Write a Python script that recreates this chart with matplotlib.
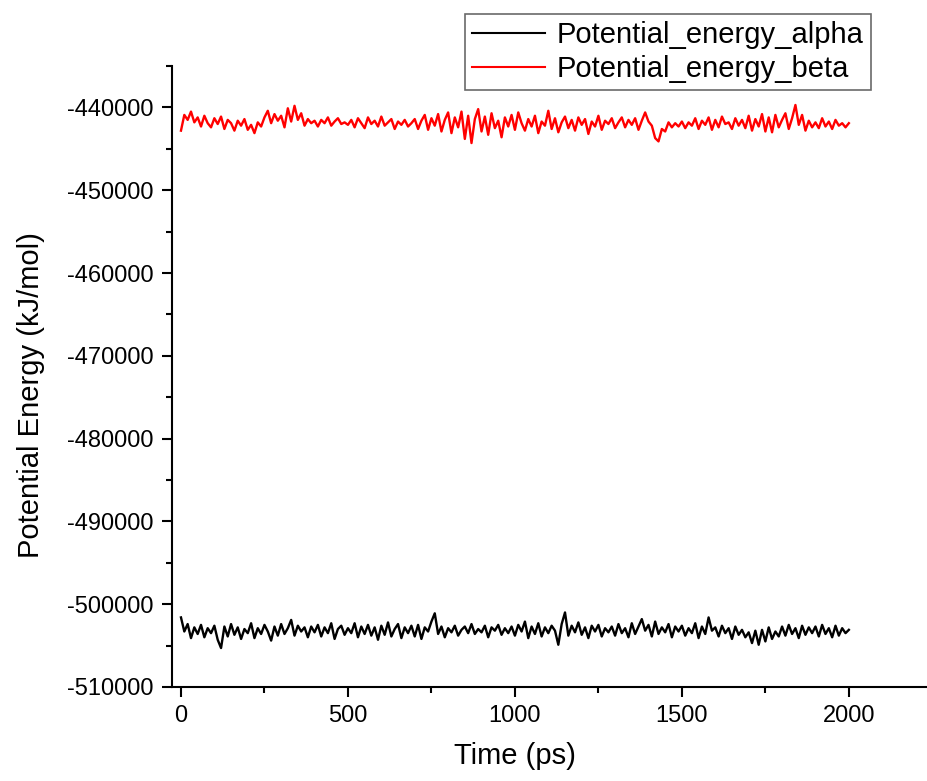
import numpy as np
import matplotlib
matplotlib.use("Agg")
import matplotlib.pyplot as plt
from matplotlib.ticker import MultipleLocator

# time axis, one sample every 10 ps
time_ps = np.arange(0, 2001, 10)

# potential energy (kJ/mol)
energy_beta = [
    -442800, -440900, -441500, -440500, -441800, -441200, -442300, -441000, -441900, -442400,
    -441300, -442000, -441100, -442600, -441500, -441900, -442800, -441600, -442200, -441400,
    -442700, -442100, -443100, -441800, -442300, -441200, -440400, -441900, -440800, -441600,
    -441000, -442400, -440100, -441700, -439800, -441500, -440700, -442200, -441400, -441900,
    -441600, -442300, -441500, -441900, -441200, -442200, -441700, -441300, -442000, -441800,
    -442100, -441500, -442400, -441300, -441900, -442500, -441200, -442000, -441600, -442300,
    -441100, -442200, -441800, -441400, -442600, -441700, -442100, -441500, -442300, -441900,
    -441400, -442600, -441600, -440900, -442700, -441300, -442200, -440800, -442900, -441500,
    -440600, -443100, -441200, -442400, -440500, -443800, -441000, -444300, -441400, -440200,
    -442900, -441100, -443300, -440700, -442500, -441600, -443600, -441200, -442300, -440900,
    -442700, -440600, -441900, -442800, -441400, -442300, -441000, -443100, -441700, -442200,
    -440400, -442600, -441300, -443000, -441800, -441100, -442500, -441500, -442800, -441200,
    -442100, -441400, -443200, -441700, -442300, -441000, -442700, -441600, -442000, -441300,
    -442500, -441800, -441200, -442400, -441500, -442100, -441300, -442700, -441600, -440600,
    -441700, -442200, -443700, -444100, -442600, -442900, -441800, -442400, -441900, -442300,
    -441700, -442500, -441800, -442200, -441300, -442600, -441600, -442100, -441200, -442700,
    -441500, -442400, -441100, -442000, -441800, -442600, -441300, -442200, -441500, -442500,
    -441000, -442800, -441400, -442300, -440800, -442900, -441200, -443000, -440900, -442400,
    -441500, -440700, -442600, -441300, -439700, -442100, -440900, -442800, -441600, -442400,
    -441800, -442500, -441300, -442300, -441700, -442600, -441500, -442200, -441900, -442400,
    -441900,
]

energy_alpha = [
    -501600, -503300, -502400, -504100, -502800, -503600, -502500, -504000, -502900, -503500,
    -502600, -504300, -505300, -502700, -503900, -502400, -503700, -502800, -504200, -503000,
    -503500, -502300, -504100, -502900, -503600, -502500, -503300, -504400, -502700, -503800,
    -502400, -503600, -502900, -501900, -503800, -502600, -503300, -502800, -504000, -502700,
    -503400, -502500, -503900, -502800, -503500, -502300, -504200, -503000, -502600, -503700,
    -502900, -503500, -502300, -504000, -502700, -503600, -502500, -503800, -502800, -504300,
    -502600, -503700, -502200, -503900, -503000, -502400, -504100, -502800, -503500, -502600,
    -503900, -502500, -504200, -502800, -503300, -502100, -501100, -503600, -502700, -504000,
    -502900, -503400, -502600, -503800, -503100, -502700, -503500, -502400, -503600, -503000,
    -503400, -502600, -504000, -502800, -503200, -502500, -503700, -502900, -503500, -502700,
    -503800, -502500, -503300, -502100, -504100, -502700, -503600, -502300, -503900, -502800,
    -503500, -502600, -503200, -504900, -502400, -501000, -503800, -502600, -503400, -502200,
    -503700, -502800, -504100, -502600, -503300, -502500, -503900, -502900, -503400, -502700,
    -503800, -502400, -503500, -502900, -504000, -502300, -503600, -502700, -501800, -503200,
    -502500, -503900, -502100, -503600, -502800, -503400, -502400, -504000, -502700, -503300,
    -502600, -503800, -502900, -503500, -502300, -504100, -502700, -503600, -501600, -503200,
    -502800, -503900, -502600, -503500, -502900, -504200, -502700, -503700, -503100, -504000,
    -503400, -504700, -503200, -504900, -503100, -504500, -502800, -504200, -503300, -503900,
    -502700, -503800, -502500, -503600, -502900, -504100, -502600, -503700, -502800, -503500,
    -502700, -503900, -502500, -503600, -502900, -504000, -502600, -503800, -502900, -503500,
    -503100,
]

plt.rcParams['font.family'] = ['Liberation Sans', 'DejaVu Sans']
plt.rcParams['axes.unicode_minus'] = False

fig = plt.figure(figsize=(9.28, 7.81), dpi=100)
ax = fig.add_axes([0.1853, 0.1204, 0.8147, 0.795])

ax.plot(time_ps, energy_alpha, color='black', lw=1.7, label='Potential_energy_alpha')
ax.plot(time_ps, energy_beta, color='red', lw=1.7, label='Potential_energy_beta')

ax.set_xlim(-27, 2237)
ax.set_ylim(-510000, -435000)
ax.xaxis.set_major_locator(MultipleLocator(500))
ax.xaxis.set_minor_locator(MultipleLocator(250))
ax.yaxis.set_major_locator(MultipleLocator(10000))
ax.yaxis.set_minor_locator(MultipleLocator(5000))

for side in ['top', 'right']:
    ax.spines[side].set_visible(False)
for side in ['left', 'bottom']:
    ax.spines[side].set_linewidth(1.5)

ax.tick_params(which='major', direction='out', length=7, width=1.5, labelsize=17, pad=6)
ax.tick_params(which='minor', direction='out', length=4, width=1.5)

ax.set_xlabel('Time (ps)', fontsize=21)
ax.set_ylabel('Potential Energy (kJ/mol)', fontsize=21)
ax.xaxis.set_label_coords(0.454, -0.088)
ax.yaxis.set_label_coords(-0.168, 0.47)

leg = ax.legend(loc='upper right', bbox_to_anchor=(871 / 928, 1 - 14 / 781),
                bbox_transform=fig.transFigure, fontsize=21, frameon=True,
                fancybox=False, handlelength=2.5, borderpad=0.25, labelspacing=0.2,
                handletextpad=0.4, borderaxespad=0)
leg.get_frame().set_edgecolor('#444444')
leg.get_frame().set_linewidth(1.2)
for line in leg.get_lines():
    line.set_linewidth(1.5)

fig.savefig('out.png', dpi=100)
